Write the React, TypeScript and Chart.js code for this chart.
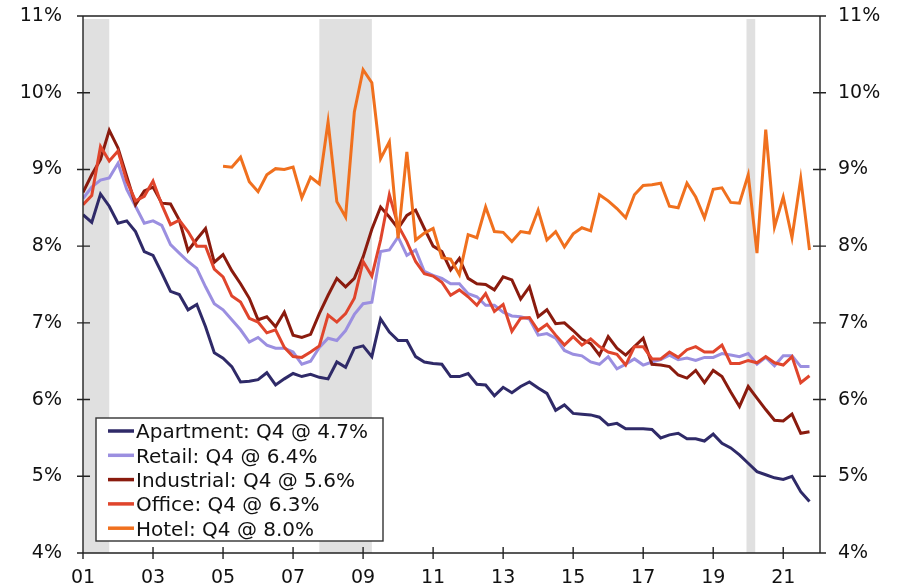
import React, { useEffect, useRef } from 'react';
import { Chart, registerables } from 'chart.js';

Chart.register(...registerables);

// ---------- data ----------
const START_YEAR = 2001; // first quarter = 2001 Q1, quarterly through 2021 Q4

const apartment = [
  8.41, 8.31, 8.68, 8.52, 8.30, 8.33, 8.19, 7.93, 7.88, 7.65, 7.41, 7.37, 7.17, 7.24, 6.95, 6.61, 6.54, 6.43,
  6.23, 6.24, 6.26, 6.35, 6.19, 6.27, 6.34, 6.30, 6.33, 6.29, 6.27, 6.49, 6.42, 6.67, 6.70, 6.56,
  7.05, 6.88, 6.77, 6.77, 6.56, 6.49, 6.47, 6.46, 6.30, 6.30, 6.34, 6.20, 6.19, 6.05, 6.16, 6.09, 6.17,
  6.23, 6.15, 6.08, 5.86, 5.93, 5.82, 5.81, 5.80, 5.77, 5.67, 5.69, 5.62, 5.62, 5.62, 5.61, 5.50,
  5.54, 5.56, 5.49, 5.49, 5.46, 5.55, 5.43, 5.37, 5.28, 5.17, 5.06, 5.02, 4.98, 4.96, 5.00, 4.80, 4.67,
];

const retail = [
  8.62, 8.77, 8.86, 8.89, 9.08, 8.74, 8.52, 8.30, 8.33, 8.27, 8.02, 7.91, 7.80, 7.71, 7.47, 7.25, 7.17, 7.04,
  6.91, 6.75, 6.81, 6.71, 6.67, 6.67, 6.62, 6.46, 6.50, 6.68, 6.80, 6.77, 6.90, 7.11, 7.25, 7.27,
  7.93, 7.95, 8.12, 7.88, 7.95, 7.67, 7.62, 7.58, 7.51, 7.51, 7.38, 7.34, 7.23, 7.23, 7.14, 7.09, 7.08,
  7.05, 6.84, 6.86, 6.80, 6.64, 6.59, 6.57, 6.49, 6.46, 6.56, 6.40, 6.46, 6.53, 6.45, 6.49, 6.52,
  6.58, 6.52, 6.54, 6.51, 6.55, 6.55, 6.60, 6.58, 6.56, 6.60, 6.46, 6.55, 6.44, 6.57, 6.57, 6.43, 6.43,
];

const industrial = [
  8.70, 8.93, 9.13, 9.51, 9.28, 8.91, 8.54, 8.72, 8.77, 8.56, 8.55, 8.34, 7.94, 8.09, 8.23, 7.79, 7.89, 7.68,
  7.51, 7.32, 7.04, 7.08, 6.95, 7.14, 6.84, 6.81, 6.85, 7.12, 7.36, 7.58, 7.47, 7.58, 7.86, 8.22,
  8.51, 8.38, 8.23, 8.40, 8.47, 8.23, 8.00, 7.93, 7.69, 7.84, 7.58, 7.51, 7.50, 7.43, 7.60, 7.56, 7.31,
  7.47, 7.08, 7.17, 6.99, 7.00, 6.90, 6.79, 6.73, 6.58, 6.82, 6.67, 6.58, 6.69, 6.80, 6.46, 6.45,
  6.43, 6.32, 6.28, 6.38, 6.22, 6.38, 6.30, 6.10, 5.91, 6.17, 6.02, 5.87, 5.73, 5.72, 5.81, 5.56, 5.58,
];

const office = [
  8.54, 8.66, 9.30, 9.11, 9.24, 8.85, 8.59, 8.65, 8.85, 8.54, 8.28, 8.34, 8.19, 8.00, 8.00, 7.70, 7.60, 7.35,
  7.27, 7.06, 7.01, 6.87, 6.91, 6.68, 6.56, 6.55, 6.62, 6.70, 7.10, 7.01, 7.12, 7.32, 7.80, 7.61,
  8.08, 8.67, 8.27, 8.06, 7.80, 7.64, 7.61, 7.53, 7.36, 7.43, 7.34, 7.23, 7.38, 7.15, 7.24, 6.89, 7.06,
  7.07, 6.90, 6.98, 6.84, 6.71, 6.82, 6.71, 6.79, 6.69, 6.62, 6.59, 6.45, 6.69, 6.69, 6.53, 6.53,
  6.62, 6.55, 6.65, 6.69, 6.62, 6.62, 6.71, 6.47, 6.47, 6.51, 6.48, 6.56, 6.48, 6.45, 6.56, 6.22, 6.31,
];

const hotel = [
  null, null, null, null, null, null, null, null, null, null, null, null, null, null, null, null,
  9.04, 9.03, 9.16, 8.84, 8.71, 8.93, 9.01, 9.00, 9.03, 8.63, 8.90, 8.81, 9.62, 8.58, 8.38, 9.75, 10.30, 10.13,
  9.14, 9.36, 8.10, 9.23, 8.08, 8.17, 8.23, 7.85, 7.83, 7.63, 8.15, 8.11, 8.51, 8.19, 8.18, 8.06, 8.19,
  8.17, 8.47, 8.08, 8.19, 7.99, 8.16, 8.24, 8.20, 8.67, 8.59, 8.49, 8.37, 8.67, 8.79, 8.80, 8.82,
  8.52, 8.50, 8.82, 8.64, 8.37, 8.74, 8.76, 8.57, 8.56, 8.93, 7.91, 9.52, 8.25, 8.64, 8.11, 8.88, 7.95,
];

const seriesNames = ['Apartment', 'Retail', 'Industrial', 'Office', 'Hotel'];
const legendLabels = [
  'Apartment: Q4 @ 4.7%',
  'Retail: Q4 @ 6.4%',
  'Industrial: Q4 @ 5.6%',
  'Office: Q4 @ 6.3%',
  'Hotel: Q4 @ 8.0%',
];
const xTickYears = [2001, 2003, 2005, 2007, 2009, 2011, 2013, 2015, 2017, 2019, 2021];
const yTickValues = [4, 5, 6, 7, 8, 9, 10, 11];
const recessions: [number, number][] = [
  [2001.0, 2001.75],
  [2007.75, 2009.25],
  [2019.95, 2020.2],
];

// ---------- styles ----------
const COLORS = ['#2f2a68', '#9b8fe0', '#8a1b0e', '#e0452c', '#f0701e'];
const FONT = 'DejaVu Sans';
const AXIS_COLOR = '#222';

const toPoints = (arr: (number | null)[]) =>
  arr
    .map((v, i) => (v == null ? null : { x: START_YEAR + i / 4, y: v }))
    .filter((p) => p !== null) as { x: number; y: number }[];

const shadingPlugin = {
  id: 'recessionShading',
  beforeDatasetsDraw(chart: any) {
    const { ctx, chartArea } = chart;
    const xs = chart.scales.x;
    ctx.save();
    ctx.fillStyle = '#e0e0e0';
    for (const [a, b] of recessions) {
      const x1 = xs.getPixelForValue(a);
      const x2 = xs.getPixelForValue(b);
      ctx.fillRect(x1, chartArea.top + 3, x2 - x1, chartArea.bottom - chartArea.top - 3);
    }
    ctx.restore();
  },
};

const axesPlugin = {
  id: 'axesFrame',
  afterDatasetsDraw(chart: any) {
    const { ctx, chartArea } = chart;
    const { left, right, top, bottom } = chartArea;
    const xs = chart.scales.x;
    const ys = chart.scales.y;
    ctx.save();
    ctx.strokeStyle = AXIS_COLOR;
    ctx.lineWidth = 1.4;
    ctx.beginPath();
    ctx.moveTo(left, top);
    ctx.lineTo(left, bottom);
    ctx.moveTo(right, top);
    ctx.lineTo(right, bottom);
    ctx.moveTo(left, bottom);
    ctx.lineTo(right, bottom);
    ctx.moveTo(left, top);
    ctx.lineTo(right, top);
    for (const v of yTickValues) {
      const y = ys.getPixelForValue(v);
      ctx.moveTo(left - 6, y);
      ctx.lineTo(left + 7, y);
      ctx.moveTo(right - 7, y);
      ctx.lineTo(right + 6, y);
    }
    for (const yr of xTickYears) {
      const x = xs.getPixelForValue(yr);
      ctx.moveTo(x, bottom - 6);
      ctx.lineTo(x, bottom + 6);
    }
    ctx.stroke();
    ctx.restore();
  },
};

const legendPlugin = {
  id: 'boxLegend',
  afterDraw(chart: any) {
    const { ctx, chartArea } = chart;
    const bx = chartArea.left + 13;
    const by = chartArea.bottom - 135;
    const bw = 287;
    const bh = 123;
    ctx.save();
    ctx.fillStyle = '#ffffff';
    ctx.fillRect(bx, by, bw, bh);
    ctx.strokeStyle = '#333';
    ctx.lineWidth = 1.4;
    ctx.strokeRect(bx, by, bw, bh);
    ctx.font = `20px "${FONT}"`;
    ctx.textBaseline = 'alphabetic';
    ctx.textAlign = 'left';
    legendLabels.forEach((label, k) => {
      const ry = by + 13 + k * 24.3;
      ctx.strokeStyle = COLORS[k];
      ctx.lineWidth = 3.5;
      ctx.beginPath();
      ctx.moveTo(bx + 12, ry);
      ctx.lineTo(bx + 38, ry);
      ctx.stroke();
      ctx.fillStyle = '#111';
      ctx.fillText(label, bx + 40, ry + 7.3);
    });
    ctx.restore();
  },
};

export default function App() {
  const canvasRef = useRef<HTMLCanvasElement | null>(null);

  useEffect(() => {
    if (!canvasRef.current) return;
    const seriesData = [apartment, retail, industrial, office, hotel];
    const tickFont = { family: FONT, size: 19 };
    const zeroPad = (scale: any) => {
      scale.paddingTop = 0;
      scale.paddingBottom = 0;
      scale.paddingLeft = 0;
      scale.paddingRight = 0;
    };
    const chart = new Chart(canvasRef.current, {
      type: 'line',
      data: {
        datasets: seriesData.map((arr, k) => ({
          label: seriesNames[k],
          data: toPoints(arr),
          borderColor: COLORS[k],
          backgroundColor: COLORS[k],
          borderWidth: 3,
          pointRadius: 0,
          tension: 0,
          fill: false,
          order: 5 - k,
          yAxisID: 'y',
        })),
      },
      options: {
        animation: false,
        responsive: false,
        maintainAspectRatio: false,
        layout: { padding: { top: 16, left: 0, right: 0, bottom: 0 } },
        plugins: {
          legend: { display: false },
          tooltip: { enabled: false },
          title: { display: false },
        },
        scales: {
          x: {
            type: 'linear',
            min: 2001,
            max: 2022.05,
            grid: { display: false, drawTicks: false },
            border: { display: false },
            ticks: {
              font: tickFont,
              color: '#111',
              padding: 14,
              maxRotation: 0,
              autoSkip: false,
              callback: (v: any) => String(Number(v) % 100).padStart(2, '0'),
            },
            afterBuildTicks: (scale: any) => {
              scale.ticks = xTickYears.map((value) => ({ value }));
            },
            afterFit: (scale: any) => {
              scale.height = 35;
              zeroPad(scale);
            },
          },
          y: {
            type: 'linear',
            position: 'left',
            min: 4,
            max: 11,
            grid: { display: false, drawTicks: false },
            border: { display: false },
            ticks: {
              font: tickFont,
              color: '#111',
              padding: 21,
              callback: (v: any) => `${v}%`,
            },
            afterBuildTicks: (scale: any) => {
              scale.ticks = yTickValues.map((value) => ({ value }));
            },
            afterFit: (scale: any) => {
              scale.width = 83;
              zeroPad(scale);
            },
          },
          y2: {
            type: 'linear',
            position: 'right',
            min: 4,
            max: 11,
            grid: { display: false, drawTicks: false },
            border: { display: false },
            ticks: {
              font: tickFont,
              color: '#111',
              padding: 18,
              callback: (v: any) => `${v}%`,
            },
            afterBuildTicks: (scale: any) => {
              scale.ticks = yTickValues.map((value) => ({ value }));
            },
            afterFit: (scale: any) => {
              scale.width = 81;
              zeroPad(scale);
            },
          },
        },
      },
      plugins: [shadingPlugin, axesPlugin, legendPlugin],
    } as any);
    return () => chart.destroy();
  }, []);

  return (
    <div style={{ position: 'fixed', left: 0, top: 0, width: 901, height: 588, background: '#fff' }}>
      <canvas ref={canvasRef} width={901} height={588} style={{ display: 'block' }} />
    </div>
  );
}
